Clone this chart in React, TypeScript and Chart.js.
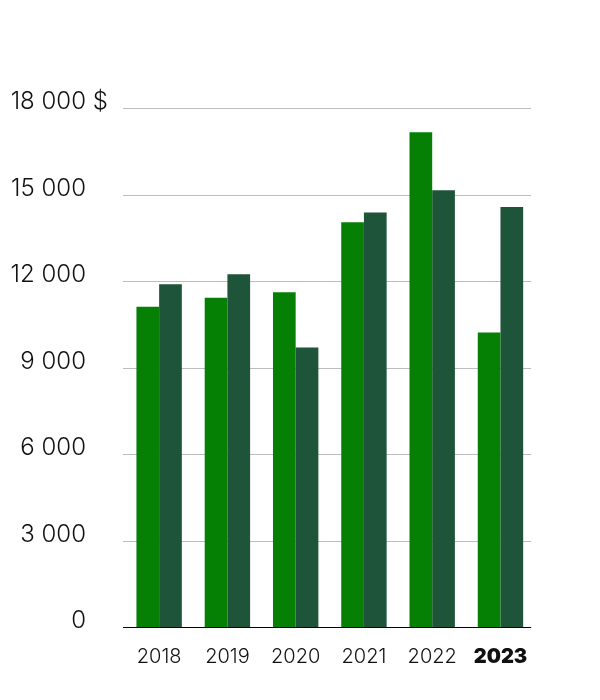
import React, { useEffect, useRef } from "react";
import { Chart, registerables } from "chart.js";

Chart.register(...registerables);

const years = ["2018", "2019", "2020", "2021", "2022", "2023"];
const seriesA = [11110, 11420, 11610, 14040, 17160, 10210];
const seriesB = [11890, 12230, 9690, 14380, 15150, 14570];
const yTicks = [0, 3000, 6000, 9000, 12000, 15000, 18000];
const yTickLabels = ["0", "3 000", "6 000", "9 000", "12 000", "15 000", "18 000"];
const topSuffix = " $";

const colorA = "#058005";
const colorB = "#1e5439";

const gridAndLabelsPlugin = {
  id: "gridAndLabels",
  beforeDatasetsDraw(chart: any) {
    const { ctx } = chart;
    const y = chart.scales.y;
    const left = chart.chartArea.left - 2;
    const right = chart.chartArea.right - 3.5;
    ctx.save();
    yTicks.forEach((v) => {
      const py = Math.round(y.getPixelForValue(v)) + 0.5;
      ctx.strokeStyle = v === 0 ? "#000" : "#bdbdbd";
      ctx.lineWidth = 1;
      ctx.beginPath();
      ctx.moveTo(left, py);
      ctx.lineTo(right, py);
      ctx.stroke();
    });
    ctx.restore();
  },
  afterDraw(chart: any) {
    const { ctx } = chart;
    const y = chart.scales.y;
    ctx.save();
    ctx.font = "300 24px Inter, 'Noto Sans', sans-serif";
    ctx.fillStyle = "#111";
    ctx.textBaseline = "alphabetic";
    const xRight = 78;
    yTicks.forEach((v, i) => {
      const py = y.getPixelForValue(v) + 1;
      ctx.textAlign = "right";
      ctx.fillText(yTickLabels[i], xRight, py);
      if (i === yTicks.length - 1) {
        ctx.textAlign = "left";
        ctx.fillText(topSuffix, xRight, py);
      }
    });
    // redraw zero line over bars
    const pz = Math.round(y.getPixelForValue(0)) + 0.5;
    ctx.strokeStyle = "#000";
    ctx.lineWidth = 1;
    ctx.beginPath();
    ctx.moveTo(chart.chartArea.left - 2, pz);
    ctx.lineTo(chart.chartArea.right - 3.5, pz);
    ctx.stroke();
    ctx.restore();
  },
};

export default function App() {
  const ref = useRef<HTMLCanvasElement>(null);
  useEffect(() => {
    if (!ref.current) return;
    const chart = new Chart(ref.current, {
      type: "bar",
      data: {
        labels: years,
        datasets: [
          {
            data: seriesA,
            backgroundColor: colorA,
            borderWidth: 0,
            barPercentage: 1,
            categoryPercentage: 0.665,
          },
          {
            data: seriesB,
            backgroundColor: colorB,
            borderWidth: 0,
            barPercentage: 1,
            categoryPercentage: 0.665,
          },
        ],
      },
      options: {
        animation: false,
        responsive: true,
        maintainAspectRatio: false,
        layout: { padding: { left: 117, right: 57.4, top: 100, bottom: 0 } },
        plugins: { legend: { display: false }, tooltip: { enabled: false } },
        scales: {
          x: {
            grid: { display: false, drawTicks: false },
            border: { display: false },
            ticks: {
              padding: 18,
              color: "#111",
              font: (c: any) => ({
                family: "Inter, 'Noto Sans', sans-serif",
                size: 20,
                weight: c.index === years.length - 1 ? "900" : "300",
              }),
            },
            afterFit: (s: any) => {
              s.height = 65;
            },
          },
          y: {
            min: 0,
            max: 18000,
            ticks: { display: false, stepSize: 3000 },
            border: { display: false },
            grid: { display: false, drawTicks: false },
            afterFit: (s: any) => {
              s.width = 0;
            },
          },
        },
      },
      plugins: [gridAndLabelsPlugin],
    });
    return () => chart.destroy();
  }, []);
  return (
    <div style={{ width: 584, height: 684, position: "relative" }}>
      <canvas ref={ref} />
    </div>
  );
}
